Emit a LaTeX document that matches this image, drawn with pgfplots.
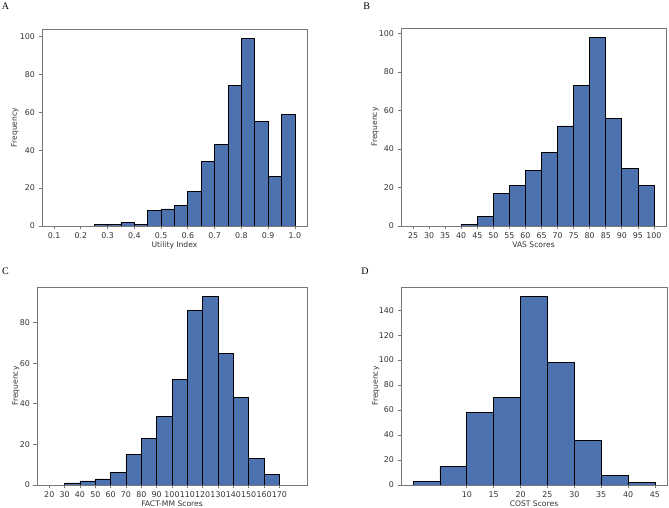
\documentclass[border=0pt]{standalone}
\usepackage{fontspec}
\setmainfont{DejaVu Sans}
\newfontfamily\letterfont{Liberation Serif}
\usepackage{pgfplots}
\pgfplotsset{compat=1.18}
\definecolor{barblue}{RGB}{76,114,176}
\definecolor{framegray}{RGB}{120,120,120}
\pgfplotsset{
  histax/.style={
    scale only axis,
    anchor=south west,
    ymin=0,
    axis line style={framegray, line width=0.8bp},
    tick style={framegray, line width=0.8bp},
    tick align=outside,
    major tick length=3.5bp,
    xtick pos=lower, ytick pos=left,
    font=\fontsize{7.6bp}{9bp}\selectfont,
    tick label style={text=black!80, font=\fontsize{7.9bp}{9.5bp}\selectfont},
    /pgf/number format/assume math mode=true,
    /pgf/number format/1000 sep={},
    label style={text=black!80},
    ylabel={Frequency},
  },
  histbar/.style={ybar interval, fill=barblue, draw=black, line width=0.8bp},
}
\begin{document}
\begin{tikzpicture}[x=1bp,y=1bp]
\useasboundingbox (0,0) rectangle (669,508);
% panel A
\begin{axis}[histax, at={(42bp,282bp)}, width=265bp, height=197bp,
  xmin=0.055, xmax=1.045, ymax=103.95,
  xtick={0.1,0.2,...,1.0}, ytick={0,20,...,100},
  xticklabel style={/pgf/number format/fixed, /pgf/number format/fixed zerofill, /pgf/number format/precision=1},
  xlabel={Utility Index},
  xlabel style={at={(axis description cs:0.5,0)}, anchor=center, yshift=-19bp},
  ylabel style={at={(axis description cs:-0.102,0.5)}, anchor=center}]
\addplot[histbar] coordinates {
  (0.25,1) (0.30,1) (0.35,2) (0.40,1) (0.45,8) (0.50,9) (0.55,11) (0.60,18)
  (0.65,34) (0.70,43) (0.75,74) (0.80,99) (0.85,55) (0.90,26) (0.95,59) (1.00,0)};
\end{axis}
% panel B
\begin{axis}[histax, at={(401bp,282bp)}, width=265bp, height=198bp,
  xmin=21.25, xmax=103.75, ymax=102.9,
  xtick={25,30,...,100}, ytick={0,20,...,100},
  xlabel={VAS Scores},
  xlabel style={at={(axis description cs:0.5,0)}, anchor=center, yshift=-19bp},
  ylabel style={at={(axis description cs:-0.098,0.5)}, anchor=center}]
\addplot[histbar] coordinates {
  (40,1) (45,5) (50,17) (55,21) (60,29) (65,38) (70,52) (75,73)
  (80,98) (85,56) (90,30) (95,21) (100,0)};
\end{axis}
% panel C
\begin{axis}[histax, at={(37bp,23bp)}, width=270bp, height=198bp,
  xmin=12, xmax=188, ymax=97.65,
  xtick={20,30,...,170}, ytick={0,20,...,80},
  xlabel={FACT-MM Scores},
  xlabel style={at={(axis description cs:0.5,0)}, anchor=center, yshift=-18.7bp},
  ylabel style={at={(axis description cs:-0.078,0.5)}, anchor=center}]
\addplot[histbar] coordinates {
  (30,1) (40,2) (50,3) (60,6) (70,15) (80,23) (90,34) (100,52) (110,86)
  (120,93) (130,65) (140,43) (150,13) (160,5) (170,0)};
\end{axis}
% panel D
\begin{axis}[histax, at={(401bp,23bp)}, width=266bp, height=198bp,
  xmin=-2.25, xmax=47.25, ymax=158.55,
  xtick={10,15,...,45}, ytick={0,20,...,140},
  xlabel={COST Scores},
  xlabel style={at={(axis description cs:0.5,0)}, anchor=center, yshift=-18.7bp},
  ylabel style={at={(axis description cs:-0.094,0.5)}, anchor=center}]
\addplot[histbar] coordinates {
  (0,3) (5,15) (10,58) (15,70) (20,151) (25,98) (30,36) (35,8) (40,2) (45,0)};
\end{axis}
% panel letters
\node[font=\letterfont\fontsize{10bp}{12bp}\selectfont] at (5.5,501.3) {A};
\node[font=\letterfont\fontsize{10bp}{12bp}\selectfont] at (366.7,501.3) {B};
\node[font=\letterfont\fontsize{10bp}{12bp}\selectfont] at (5.5,237) {C};
\node[font=\letterfont\fontsize{10bp}{12bp}\selectfont] at (365,237) {D};
\end{tikzpicture}
\end{document}
